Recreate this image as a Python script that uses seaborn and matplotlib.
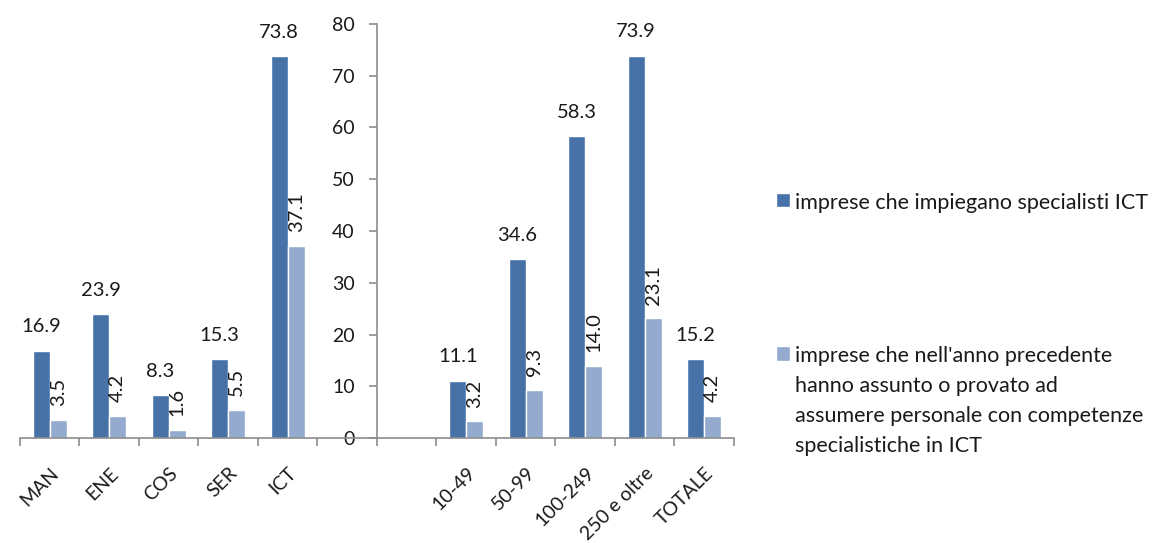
import numpy as np
import pandas as pd
import seaborn as sns
import matplotlib.pyplot as plt
from matplotlib.offsetbox import HPacker

# Categorie (i due slot vuoti lasciano spazio all'asse y nel mezzo)
categorie = ["MAN", "ENE", "COS", "SER", "ICT", "", " ", "10-49", "50-99", "100-249", "250 e oltre", "TOTALE"]
cat_dati = ["MAN", "ENE", "COS", "SER", "ICT", "10-49", "50-99", "100-249", "250 e oltre", "TOTALE"]
specialisti = [16.9, 23.9, 8.3, 15.3, 73.8, 11.1, 34.6, 58.3, 73.9, 15.2]
assunzioni = [3.5, 4.2, 1.6, 5.5, 37.1, 3.2, 9.3, 14.0, 23.1, 4.2]
y_ticks = [0, 10, 20, 30, 40, 50, 60, 70, 80]

serie1 = "imprese che impiegano specialisti ICT"
serie2 = ("imprese che nell'anno precedente\nhanno assunto o provato ad\n"
          "assumere personale con competenze\nspecialistiche in ICT")
colori = ["#4672A8", "#95AACF"]
grigio = "#8C8C8C"

df = pd.DataFrame({
    "cat": cat_dati * 2,
    "val": specialisti + assunzioni,
    "serie": [serie1] * len(cat_dati) + [serie2] * len(cat_dati),
})

sns.set_theme(style="white")
plt.rcParams['font.family'] = ['Lato', 'DejaVu Sans']
plt.rcParams['text.color'] = '#1a1a1a'

fig = plt.figure(figsize=(11.71, 5.43), dpi=100)
ax = fig.add_axes([20 / 1171, 105 / 543, 714 / 1171, 414 / 543])

sns.barplot(data=df, x="cat", y="val", hue="serie", order=categorie,
            palette=colori, width=34 / 59.5, saturation=1, legend=False, ax=ax)

# etichette valori
ax.bar_label(ax.containers[0], fmt="%.1f", padding=11, fontsize=14.5, color="#1a1a1a")
ax.bar_label(ax.containers[1], fmt="%.1f", padding=10, fontsize=14.5, rotation=90, color="#1a1a1a")

# assi
ax.set_xlim(-0.5, len(categorie) - 0.5)
ax.set_ylim(0, 80)
ax.set_yticks(y_ticks)
ax.set_xlabel("")
ax.set_ylabel("")

sns.despine(ax=ax, top=True, right=True)
ax.spines['left'].set_position(('data', 5.5))
for s in ['left', 'bottom']:
    ax.spines[s].set_color(grigio)
    ax.spines[s].set_linewidth(1.2)

# tacche tra le categorie, etichette al centro
bordi = np.arange(len(categorie) + 1) - 0.5
ax.set_xticks(bordi, labels=[""] * len(bordi))
ax.set_xticks(np.arange(len(categorie)), labels=categorie, minor=True)
for t in ax.get_xticklabels(minor=True):
    t.set_rotation(45)
    t.set_ha("right")
    t.set_va("top")
    t.set_rotation_mode("anchor")

ax.tick_params(axis='x', which='major', bottom=True, length=6, width=1.2, color=grigio)
ax.tick_params(axis='x', which='minor', bottom=True, length=0, pad=19, labelsize=14, labelcolor="#1a1a1a")
ax.tick_params(axis='y', left=True, length=6, width=1.2, color=grigio, pad=10, labelsize=14, labelcolor="#1a1a1a")

leg = fig.legend(ax.containers, [serie1, serie2], loc='upper left',
                 bbox_to_anchor=(776 / 1171, 1 - 193 / 543), frameon=False, fontsize=15.5,
                 handlelength=0.65, handleheight=0.65, handletextpad=0.25,
                 labelspacing=6.2, borderpad=0, borderaxespad=0)
for t in leg.get_texts():
    t.set_linespacing(1.62)
# quadratino allineato alla prima riga del testo, come in Excel
for hp in leg.findobj(HPacker):
    hp.align = "top"

fig.savefig("out.png", dpi=100)
